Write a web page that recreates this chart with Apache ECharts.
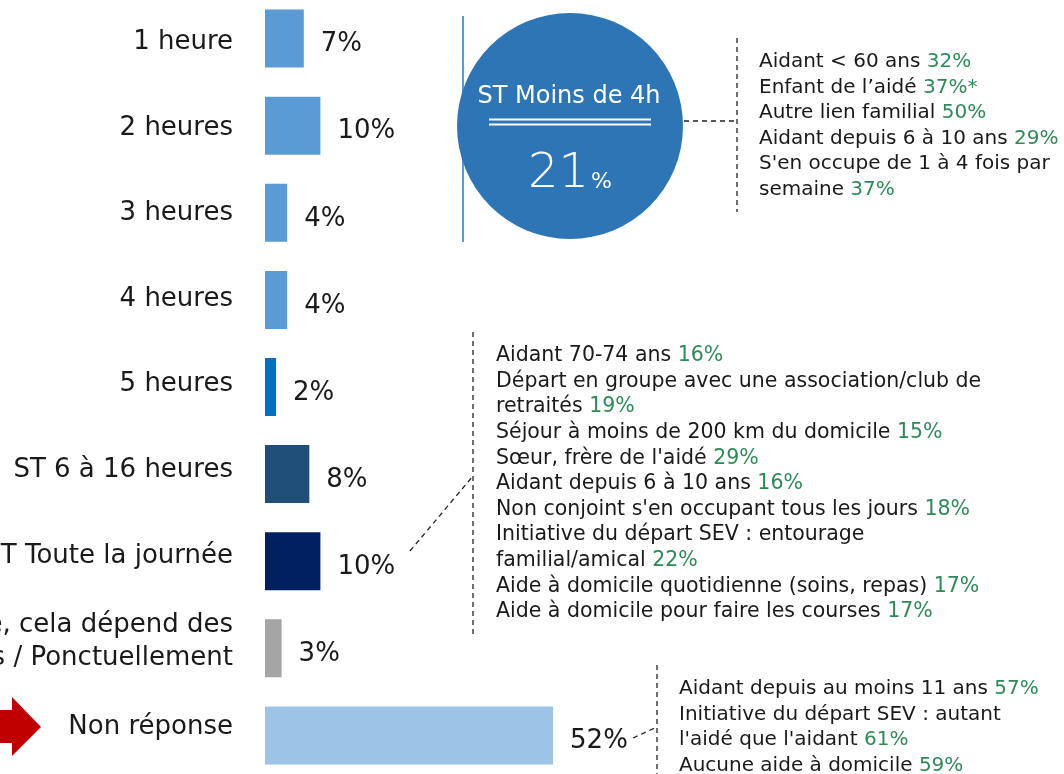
<!DOCTYPE html>
<html>
<head>
<meta charset="utf-8">
<script src="https://cdn.jsdelivr.net/npm/echarts@6/dist/echarts.min.js"></script>
<style>
  html, body { margin: 0; padding: 0; background: #fff; }
  #chart { width: 1064px; height: 774px; }
</style>
</head>
<body>
<div id="chart"></div>
<script>
// categories and values (%)
const categories = [
  '1 heure', '2 heures', '3 heures', '4 heures', '5 heures',
  'ST 6 à 16 heures', 'ST Toute la journée',
  'Variable, cela dépend des\nsemaines / Ponctuellement', 'Non réponse'
]
const values = [7, 10, 4, 4, 2, 8, 10, 3, 52]

// summary bubble
const summaryLabel = 'ST Moins de 4h'
const summaryValue = 21

// profile callouts: [text, pct]
const notesShort = [
  ['Aidant < 60 ans', '32%'],
  ['Enfant de l\u2019aidé', '37%*'],
  ['Autre lien familial', '50%'],
  ['Aidant depuis 6 à 10 ans', '29%'],
  ['S\'en occupe de 1 à 4 fois par\nsemaine', '37%']
]
const notesFullDay = [
  ['Aidant 70-74 ans', '16%'],
  ['Départ en groupe avec une association/club de\nretraités', '19%'],
  ['Séjour à moins de 200 km du domicile', '15%'],
  ['Sœur, frère de l\'aidé', '29%'],
  ['Aidant depuis 6 à 10 ans', '16%'],
  ['Non conjoint s\'en occupant tous les jours', '18%'],
  ['Initiative du départ SEV : entourage\nfamilial/amical', '22%'],
  ['Aide à domicile quotidienne (soins, repas)', '17%'],
  ['Aide à domicile pour faire les courses', '17%']
]
const notesNoAnswer = [
  ['Aidant depuis au moins 11 ans', '57%'],
  ['Initiative du départ SEV : autant\nl\'aidé que l\'aidant', '61%'],
  ['Aucune aide à domicile', '59%']
]

const barColors = ['#5B9BD5', '#5B9BD5', '#5B9BD5', '#5B9BD5', '#0070C0',
  '#1F4E79', '#002060', '#A5A5A5', '#9DC3E6']
const FONT = 'DejaVu Sans'
const GREEN = '#2E8B57'

function noteText(list) {
  return list.map(([t, p]) => t + ' {g|' + p + '}').join('\n')
}
function noteBlock(list, x, y, size) {
  return {
    type: 'text',
    x: x,
    y: y,
    style: {
      text: noteText(list),
      font: size + 'px ' + FONT,
      fill: '#1a1a1a',
      lineHeight: 25.6,
      rich: {
        g: { fill: GREEN, fontSize: size, fontFamily: FONT, lineHeight: 25.6 }
      }
    }
  }
}
const dash = { stroke: '#222', lineWidth: 1.3, lineDash: [5, 4] }

const chart = echarts.init(document.getElementById('chart'))
chart.setOption({
  animation: false,
  grid: [
    // bars
    { left: 265, top: -5, width: 554, height: 784, containLabel: false, outerBoundsMode: 'none' },
    // category labels (slightly tighter spacing than the bars in the source slide)
    { left: 265, top: -0.3, width: 554, height: 770, containLabel: false, outerBoundsMode: 'none' }
  ],
  xAxis: [
    { type: 'value', min: 0, max: 100, show: false, gridIndex: 0 },
    { type: 'value', min: 0, max: 100, show: false, gridIndex: 1 }
  ],
  yAxis: [
    {
      type: 'category', data: categories, inverse: true, gridIndex: 0,
      axisLine: { show: false }, axisTick: { show: false }, axisLabel: { show: false }
    },
    {
      type: 'category', data: categories, inverse: true, gridIndex: 1,
      axisLine: { show: false },
      axisTick: { show: false },
      axisLabel: {
        margin: 32,
        fontSize: 26,
        fontFamily: FONT,
        color: '#1a1a1a',
        lineHeight: 33
      }
    }
  ],
  series: [{
    type: 'bar',
    xAxisIndex: 0,
    yAxisIndex: 0,
    barWidth: 58,
    data: values.map((v, i) => ({ value: v, itemStyle: { color: barColors[i] } })),
    label: {
      show: true,
      position: 'right',
      distance: 17,
      offset: [0, 6],
      formatter: '{c}%',
      fontSize: 26,
      fontFamily: FONT,
      color: '#1a1a1a'
    }
  }],
  graphic: [
    // red arrow pointing at "Non réponse"
    {
      type: 'polygon',
      shape: { points: [[0, 710], [12, 710], [12, 697], [41, 727], [12, 756], [12, 743], [0, 743]] },
      style: { fill: '#C00000' }
    },
    // summary bubble
    { type: 'line', shape: { x1: 463, y1: 16, x2: 463, y2: 242 }, style: { stroke: '#5B9BD5', lineWidth: 2 } },
    { type: 'circle', shape: { cx: 570, cy: 126, r: 113 }, style: { fill: '#2E75B6' } },
    {
      type: 'text', x: 569, y: 97,
      style: { text: summaryLabel, font: '24px ' + FONT, fill: '#fff', align: 'center', verticalAlign: 'middle' }
    },
    { type: 'line', shape: { x1: 489, y1: 119.5, x2: 651, y2: 119.5 }, style: { stroke: '#fff', lineWidth: 2 } },
    { type: 'line', shape: { x1: 489, y1: 124.5, x2: 651, y2: 124.5 }, style: { stroke: '#fff', lineWidth: 2 } },
    {
      type: 'text', x: 570, y: 175,
      style: {
        text: '{big|' + summaryValue + '}{small|%}',
        align: 'center', verticalAlign: 'middle', fill: '#fff',
        rich: {
          big: { fontSize: 48, fontFamily: FONT, fill: '#fff', fontWeight: 200 },
          small: { fontSize: 22, fontFamily: FONT, fill: '#fff', padding: [14, 0, 0, 2] }
        }
      }
    },
    // callout connectors
    { type: 'line', shape: { x1: 684, y1: 121, x2: 737, y2: 121 }, style: dash },
    { type: 'line', shape: { x1: 737, y1: 38, x2: 737, y2: 212 }, style: dash },
    { type: 'line', shape: { x1: 473, y1: 332, x2: 473, y2: 636 }, style: dash },
    { type: 'line', shape: { x1: 410, y1: 551, x2: 473, y2: 476 }, style: dash },
    { type: 'line', shape: { x1: 657, y1: 665, x2: 657, y2: 774 }, style: dash },
    { type: 'line', shape: { x1: 633, y1: 738, x2: 657, y2: 727 }, style: dash },
    noteBlock(notesShort, 759, 49, 20),
    noteBlock(notesFullDay, 496, 343, 20.5),
    noteBlock(notesNoAnswer, 679, 676, 20)
  ]
})
</script>
</body>
</html>
